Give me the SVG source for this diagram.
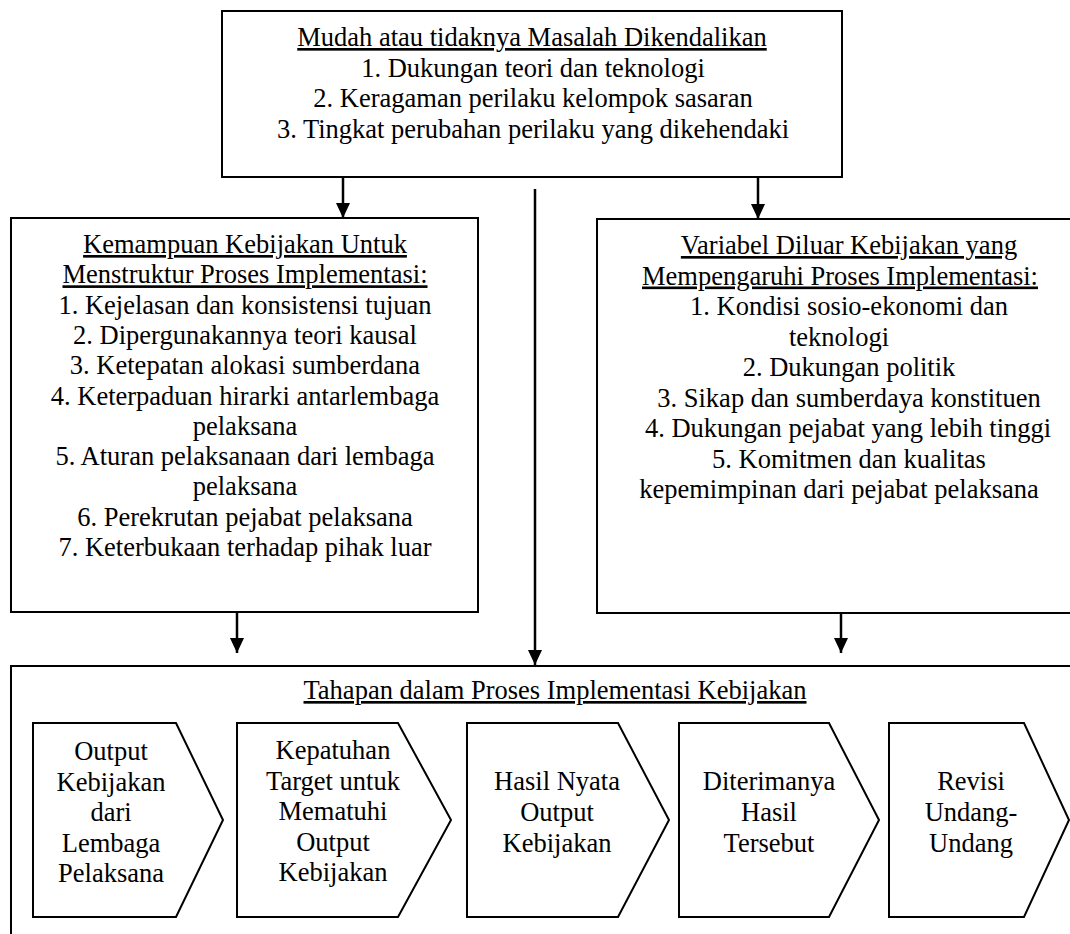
<svg xmlns="http://www.w3.org/2000/svg" width="1070" height="934" viewBox="0 0 1070 934">
<style>
.box{fill:#fff;stroke:#000;stroke-width:2}
.chev{fill:#fff;stroke:#000;stroke-width:2;stroke-linejoin:miter}
.t{font-size:26.5px;fill:#000;text-anchor:middle}
.u{text-decoration:underline}
.con{stroke:#000;stroke-width:2.5;fill:none}
</style>
<defs>
<marker id="ah" markerUnits="userSpaceOnUse" markerWidth="15" markerHeight="14" viewBox="0 0 15 14" refX="15" refY="7" orient="auto">
<path d="M0,0 L15,7 L0,14 Z" fill="#000"/>
</marker>
</defs>
<rect x="0" y="0" width="1070" height="934" fill="#fff"/>
<g font-family="Liberation Serif, DejaVu Serif, serif">
<g id="top-box">
<rect class="box" x="222" y="11" width="620" height="166"/>
<text class="t u" x="532" y="46">Mudah atau tidaknya Masalah Dikendalikan</text>
<text class="t" x="533" y="76.5">1. Dukungan teori dan teknologi</text>
<text class="t" x="533" y="107">2. Keragaman perilaku kelompok sasaran</text>
<text class="t" x="533" y="137.5">3. Tingkat perubahan perilaku yang dikehendaki</text>
</g>

<g id="left-box">
<rect class="box" x="11" y="218" width="467" height="394"/>
<text class="t u" x="245" y="253">Kemampuan Kebijakan Untuk</text>
<text class="t u" x="245" y="283.3">Menstruktur Proses Implementasi:</text>
<text class="t" x="245" y="313.6">1. Kejelasan dan konsistensi tujuan</text>
<text class="t" x="245" y="343.9">2. Dipergunakannya teori kausal</text>
<text class="t" x="245" y="374.2">3. Ketepatan alokasi sumberdana</text>
<text class="t" x="245" y="404.5">4. Keterpaduan hirarki antarlembaga</text>
<text class="t" x="245" y="434.8">pelaksana</text>
<text class="t" x="245" y="465.1">5. Aturan pelaksanaan dari lembaga</text>
<text class="t" x="245" y="495.4">pelaksana</text>
<text class="t" x="245" y="525.7">6. Perekrutan pejabat pelaksana</text>
<text class="t" x="245" y="556">7. Keterbukaan terhadap pihak luar</text>
</g>

<g id="right-box">
<rect class="box" x="597" y="219" width="520" height="394"/>
<text class="t u" x="849" y="254">Variabel Diluar Kebijakan yang</text>
<text class="t u" x="840" y="284.5">Mempengaruhi Proses Implementasi:</text>
<text class="t" x="849" y="315">1. Kondisi sosio-ekonomi dan</text>
<text class="t" x="839" y="345.5">teknologi</text>
<text class="t" x="849" y="376">2. Dukungan politik</text>
<text class="t" x="849" y="406.5">3. Sikap dan sumberdaya konstituen</text>
<text class="t" x="848" y="437">4. Dukungan pejabat yang lebih tinggi</text>
<text class="t" x="849" y="467.5">5. Komitmen dan kualitas</text>
<text class="t" x="839" y="498">kepemimpinan dari pejabat pelaksana</text>
</g>

<g id="bottom-box">
<rect class="box" x="11" y="666" width="1110" height="300"/>
<text class="t u" x="555" y="699">Tahapan dalam Proses Implementasi Kebijakan</text>
</g>

<g id="stage-1">
<polygon class="chev" points="33,723 176,723 223,820 176,917 33,917"/>
<text class="t" x="111" y="760">Output</text>
<text class="t" x="111" y="790.5">Kebijakan</text>
<text class="t" x="111" y="821">dari</text>
<text class="t" x="111" y="851.5">Lembaga</text>
<text class="t" x="111" y="882">Pelaksana</text>
</g>

<g id="stage-2">
<polygon class="chev" points="237,723 398,723 451,820 398,917 237,917"/>
<text class="t" x="333" y="759">Kepatuhan</text>
<text class="t" x="333" y="789.5">Target untuk</text>
<text class="t" x="333" y="820">Mematuhi</text>
<text class="t" x="333" y="850.5">Output</text>
<text class="t" x="333" y="881">Kebijakan</text>
</g>

<g id="stage-3">
<polygon class="chev" points="467,723 618,723 669,820 618,917 467,917"/>
<text class="t" x="557" y="790">Hasil Nyata</text>
<text class="t" x="557" y="821">Output</text>
<text class="t" x="557" y="852">Kebijakan</text>
</g>

<g id="stage-4">
<polygon class="chev" points="679,723 829,723 879,820 829,917 679,917"/>
<text class="t" x="769" y="790">Diterimanya</text>
<text class="t" x="769" y="821">Hasil</text>
<text class="t" x="769" y="852">Tersebut</text>
</g>

<g id="stage-5">
<polygon class="chev" points="889,723 1024,723 1069,820 1024,917 889,917"/>
<text class="t" x="971" y="790">Revisi</text>
<text class="t" x="971" y="821">Undang-</text>
<text class="t" x="971" y="852">Undang</text>
</g>
</g>
<g id="connectors">
<line class="con" x1="343" y1="177" x2="343" y2="218" marker-end="url(#ah)"/>
<line class="con" x1="758" y1="177" x2="758" y2="219" marker-end="url(#ah)"/>
<line class="con" x1="535" y1="189" x2="535" y2="665" marker-end="url(#ah)"/>
<line class="con" x1="237" y1="612" x2="237" y2="653" marker-end="url(#ah)"/>
<line class="con" x1="841" y1="613" x2="841" y2="653" marker-end="url(#ah)"/>
</g>
</svg>
